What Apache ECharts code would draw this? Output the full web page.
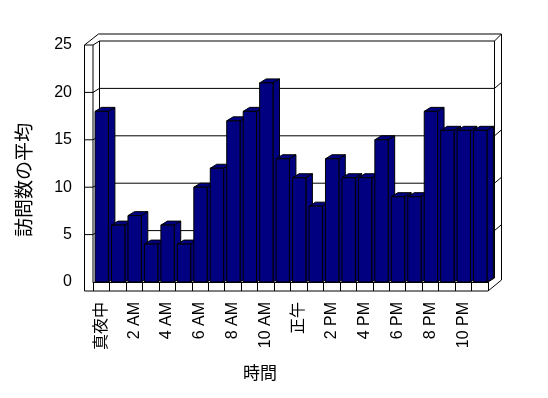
<!DOCTYPE html>
<html><head><meta charset="utf-8">
<script src="https://cdn.jsdelivr.net/npm/echarts@6/dist/echarts.min.js"></script>
<style>html,body{margin:0;padding:0;background:#fff}#c{width:548px;height:398px}</style>
</head><body><div id="c"></div>
<script>
const categories = ['真夜中','1 AM','2 AM','3 AM','4 AM','5 AM','6 AM','7 AM','8 AM','9 AM','10 AM','11 AM',
  '正午','1 PM','2 PM','3 PM','4 PM','5 PM','6 PM','7 PM','8 PM','9 PM','10 PM','11 PM'];
const visits = [18, 6, 7, 4, 6, 4, 10, 12, 17, 18, 21, 13, 11, 8, 13, 11, 11, 15, 9, 9, 18, 16, 16, 16];
const yTicks = [0, 5, 10, 15, 20, 25];
const xTitle = '時間';
const yTitle = '訪問数の平均';

const FONT = "'Liberation Sans', 'Noto Sans CJK JP', sans-serif";
const DX = 6.5, DY = -4;      // depth offset of the 3D look
const WALL = 8.5;             // left wall thickness

const chart = echarts.init(document.getElementById('c'), null, {renderer: 'canvas'});

function lineEl(x1, y1, x2, y2) {
  return {type: 'line', shape: {x1, y1, x2, y2}, style: {stroke: '#000', lineWidth: 1}};
}

function frameRender(params, api) {
  const cs = params.coordSys;
  const L = cs.x, R = cs.x + cs.width;
  const yv = v => api.coord([0, v])[1];
  const y0 = yv(yTicks[0]), yT = yv(yTicks[yTicks.length - 1]);
  const c = [];
  const xo = L - WALL;
  const topOuter = yT + DY - 7;
  const rightOuter = R + DX + 7;
  c.push(lineEl(xo, yT, xo, y0 + 9));
  c.push(lineEl(L, yT, L, y0));
  c.push(lineEl(xo, yT, L, yT));
  c.push(lineEl(xo, yT, L + DX - 1, topOuter));
  c.push(lineEl(L, yT, L + DX, yT + DY));
  c.push(lineEl(L + DX - 1, topOuter, rightOuter, topOuter));
  c.push(lineEl(L + DX, yT + DY, R + DX, yT + DY));
  c.push(lineEl(L + DX, yT + DY, L + DX, y0 + DY));
  c.push(lineEl(R + DX, yT + DY, R + DX, y0 + DY));
  c.push(lineEl(rightOuter, topOuter, rightOuter, y0 + DY + 2));
  c.push(lineEl(R + DX, yT + DY, rightOuter, topOuter));
  c.push(lineEl(xo, y0 + 9, R, y0 + 9));
  c.push(lineEl(R, y0 + 9, rightOuter, y0 + DY + 2));
  c.push(lineEl(R, y0, R + DX, y0 + DY));
  for (let k = 1; k < yTicks.length - 1; k++) {
    const y = yv(yTicks[k]);
    c.push(lineEl(xo, y, L, y));
    c.push(lineEl(L, y, L + DX, y + DY));
    c.push(lineEl(L + DX, y + DY, R + DX, y + DY));
    c.push(lineEl(R + DX, y + DY, rightOuter, y + DY - 6));
  }
  return {type: 'group', children: c};
}

function barRender(params, api) {
  const i = api.value(0), v = api.value(1);
  const base = api.coord([i, 0]);
  const top = api.coord([i, v]);
  const band = api.size([1, 0])[0];
  const bw = band * 0.81;
  const x0 = base[0] - bw / 2 + 0.5;
  const yb = base[1], yt = top[1];
  const st = {fill: '#000080', stroke: '#000', lineWidth: 1};
  return {type: 'group', children: [
    {type: 'polygon', shape: {points: [[x0 + bw, yt], [x0 + bw + DX, yt + DY], [x0 + bw + DX, yb + DY], [x0 + bw, yb]]}, style: st},
    {type: 'polygon', shape: {points: [[x0, yt], [x0 + DX, yt + DY], [x0 + bw + DX, yt + DY], [x0 + bw, yt]]}, style: st},
    {type: 'rect', shape: {x: x0, y: yt, width: bw, height: yb - yt}, style: st}
  ]};
}

const option = {
  animation: false,
  backgroundColor: '#fff',
  grid: {left: 93, right: 60, top: 45, bottom: 116, containLabel: false},
  xAxis: {
    type: 'category', data: categories, boundaryGap: true,
    axisLine: {show: true, lineStyle: {color: '#000', width: 1}},
    axisTick: {show: true, length: 9, interval: 0, lineStyle: {color: '#000'}},
    axisLabel: {interval: 1, rotate: 90, margin: 20, color: '#000', fontSize: 16, fontFamily: FONT}
  },
  yAxis: {
    type: 'value', min: 0, max: 25, interval: 5,
    axisLine: {show: false}, axisTick: {show: false}, splitLine: {show: false},
    axisLabel: {margin: 21, color: '#000', fontSize: 16, fontFamily: FONT}
  },
  series: [
    {type: 'custom', name: 'frame', renderItem: frameRender, data: [[0, 0]], z: 1, silent: true, clip: false},
    {type: 'custom', name: yTitle, renderItem: barRender, z: 3,
     data: visits.map((v, i) => [i, v]), encode: {x: 0, y: 1}, clip: false}
  ],
  graphic: [
    {type: 'text', x: 260, y: 374, style: {text: xTitle, fontSize: 17, fontFamily: FONT, fill: '#000', align: 'center', verticalAlign: 'middle'}},
    {type: 'text', x: 26, y: 180, rotation: Math.PI / 2, style: {text: yTitle, fontSize: 19, fontFamily: FONT, fill: '#000', align: 'center', verticalAlign: 'middle'}}
  ]
};
chart.setOption(option);
</script></body></html>
